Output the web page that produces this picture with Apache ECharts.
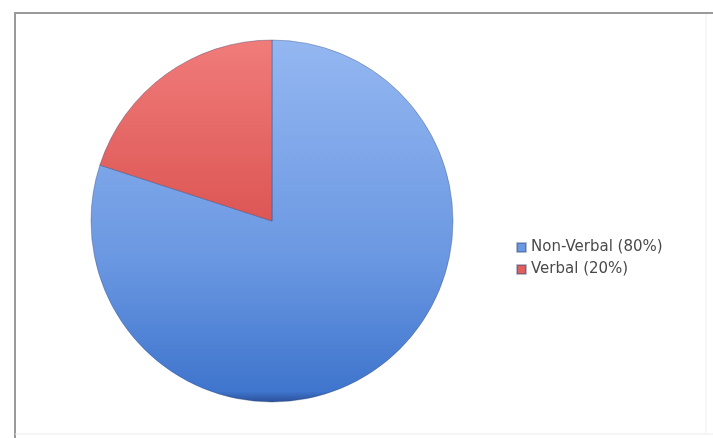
<!DOCTYPE html>
<html>
<head>
<meta charset="utf-8">
<script src="https://cdn.jsdelivr.net/npm/echarts@6/dist/echarts.min.js"></script>
<style>
  html, body { margin: 0; padding: 0; background: #fff; }
  #chart { width: 713px; height: 438px; }
</style>
</head>
<body>
<div id="chart"></div>
<script>
// data
var categories = ["Non-Verbal (80%)", "Verbal (20%)"];
var values = [80, 20];
var legendColors = ["#6b98e2", "#e0605e"];

var chart = echarts.init(document.getElementById("chart"));

var fills = [
  new echarts.graphic.LinearGradient(0, 0, 0, 1, [
    { offset: 0, color: "#94b7f1" },
    { offset: 0.6, color: "#6b98e2" },
    { offset: 0.97, color: "#3f75cd" },
    { offset: 1, color: "#2a4f96" }
  ]),
  new echarts.graphic.LinearGradient(0, 0, 0, 1, [
    { offset: 0, color: "#f07c7a" },
    { offset: 1, color: "#dc5654" }
  ])
];

chart.setOption({
  backgroundColor: "#fff",
  animation: false,
  graphic: [
    // frame round the chart
    { type: "line", shape: { x1: 14, y1: 13, x2: 713, y2: 13 }, style: { stroke: "#9a9a9a", lineWidth: 2 } },
    { type: "line", shape: { x1: 15, y1: 12, x2: 15, y2: 438 }, style: { stroke: "#9a9a9a", lineWidth: 2 } },
    { type: "line", shape: { x1: 15, y1: 434, x2: 713, y2: 434 }, style: { stroke: "#ececec", lineWidth: 1 } },
    { type: "line", shape: { x1: 706, y1: 14, x2: 706, y2: 434 }, style: { stroke: "#f0f0f0", lineWidth: 1 } }
  ],
  legend: {
    orient: "vertical",
    left: 511,
    top: 235,
    itemWidth: 9,
    itemHeight: 9,
    itemGap: 7,
    icon: "rect",
    textStyle: { color: "#4a4a4a", fontSize: 15, fontFamily: "DejaVu Sans" },
    data: categories.map(function (name, i) {
      return { name: name, itemStyle: { color: legendColors[i] } };
    })
  },
  series: [
    {
      type: "pie",
      center: [272, 221],
      radius: 181,
      startAngle: 90,
      clockwise: true,
      label: { show: false },
      labelLine: { show: false },
      emphasis: { disabled: true },
      itemStyle: { borderColor: "rgba(40,60,110,0.35)", borderWidth: 1 },
      data: categories.map(function (name, i) {
        return {
          name: name,
          value: values[i],
          itemStyle: { color: fills[i] }
        };
      })
    }
  ]
});
</script>
</body>
</html>
